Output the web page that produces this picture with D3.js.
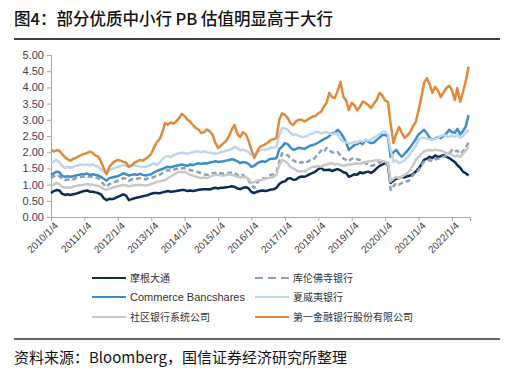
<!DOCTYPE html>
<html>
<head>
<meta charset="utf-8">
<script src="https://cdn.jsdelivr.net/npm/d3@7"></script>
<style>
  body { margin: 0; background: #fff; }
  svg { display: block; }
</style>
</head>
<body>
<div id="chart"></div>
<script>
// monthly PB readings, Jan 2010 - Jul 2022
const startMonth = new Date(2010, 0, 4)

const jpm = [
  0.74,0.80,0.83,0.82,0.72,0.68,0.70,0.68,0.70,0.72,0.75,0.78,
  0.80,0.82,0.78,0.78,0.76,0.74,0.70,0.58,0.52,0.56,0.55,0.58,
  0.62,0.66,0.70,0.66,0.52,0.55,0.58,0.60,0.62,0.64,0.66,0.68,
  0.72,0.74,0.74,0.73,0.76,0.78,0.80,0.78,0.79,0.80,0.82,0.83,
  0.83,0.80,0.82,0.80,0.82,0.84,0.85,0.86,0.86,0.85,0.88,0.90,
  0.88,0.90,0.90,0.92,0.93,0.95,0.93,0.88,0.86,0.90,0.92,0.88,
  0.77,0.74,0.78,0.80,0.82,0.80,0.82,0.85,0.86,0.90,1.02,1.08,
  1.10,1.18,1.20,1.15,1.16,1.22,1.25,1.24,1.28,1.32,1.36,1.40,
  1.48,1.51,1.45,1.45,1.46,1.42,1.45,1.48,1.44,1.38,1.36,1.24,
  1.28,1.32,1.30,1.38,1.35,1.38,1.40,1.36,1.42,1.50,1.58,1.62,
  1.66,1.60,1.05,1.12,1.18,1.20,1.24,1.22,1.26,1.28,1.32,1.40,
  1.50,1.62,1.76,1.80,1.86,1.82,1.90,1.85,1.88,1.91,1.86,1.82,
  1.76,1.70,1.60,1.52,1.40,1.35,1.28
]
const cfr = [
  1.20,1.26,1.30,1.26,1.18,1.14,1.16,1.14,1.16,1.20,1.22,1.24,
  1.24,1.26,1.24,1.25,1.22,1.20,1.12,1.00,0.93,1.02,1.05,1.08,
  1.12,1.15,1.20,1.18,1.12,1.16,1.18,1.18,1.20,1.18,1.16,1.20,
  1.20,1.24,1.28,1.30,1.35,1.40,1.45,1.42,1.46,1.48,1.51,1.50,
  1.51,1.48,1.45,1.43,1.40,1.38,1.35,1.32,1.30,1.32,1.35,1.36,
  1.32,1.35,1.34,1.36,1.35,1.38,1.35,1.30,1.25,1.30,1.20,1.14,
  0.98,0.90,1.05,1.14,1.20,1.18,1.25,1.30,1.32,1.40,1.70,1.97,
  1.95,1.90,1.82,1.75,1.70,1.66,1.70,1.65,1.70,1.75,1.76,1.85,
  1.95,2.05,2.00,2.13,2.05,2.00,1.97,2.00,1.90,1.80,1.76,1.72,
  1.80,1.82,1.78,1.76,1.70,1.66,1.62,1.58,1.60,1.65,1.70,1.68,
  1.66,1.60,0.83,0.95,1.05,1.00,1.05,1.10,1.10,1.15,1.30,1.35,
  1.45,1.60,1.71,1.75,1.76,1.72,1.78,1.80,1.82,1.86,1.90,1.95,
  2.07,2.02,2.05,1.95,2.02,2.15,2.30
]
const cbsh = [
  1.30,1.35,1.40,1.38,1.28,1.24,1.26,1.24,1.26,1.28,1.30,1.32,
  1.32,1.34,1.30,1.32,1.30,1.28,1.24,1.18,1.12,1.20,1.22,1.24,
  1.26,1.30,1.35,1.32,1.28,1.30,1.32,1.30,1.33,1.30,1.28,1.30,
  1.32,1.38,1.42,1.45,1.48,1.52,1.55,1.53,1.56,1.58,1.60,1.62,
  1.60,1.58,1.62,1.60,1.63,1.66,1.64,1.66,1.65,1.68,1.70,1.72,
  1.70,1.71,1.72,1.74,1.76,1.78,1.76,1.72,1.66,1.70,1.68,1.64,
  1.55,1.58,1.65,1.70,1.72,1.70,1.76,1.80,1.80,1.82,2.10,2.17,
  2.28,2.25,2.15,2.07,2.10,2.14,2.12,2.10,2.15,2.20,2.22,2.25,
  2.30,2.35,2.40,2.44,2.50,2.58,2.60,2.69,2.60,2.47,2.30,2.07,
  2.15,2.22,2.25,2.30,2.25,2.38,2.32,2.28,2.30,2.38,2.45,2.53,
  2.53,2.50,1.86,2.00,2.07,1.95,1.86,1.95,2.05,2.15,2.28,2.40,
  2.55,2.62,2.69,2.58,2.45,2.38,2.42,2.47,2.44,2.50,2.58,2.69,
  2.62,2.60,2.72,2.55,2.65,2.80,3.15
]
const boh = [
  1.66,1.72,1.76,1.70,1.58,1.51,1.55,1.52,1.55,1.58,1.60,1.62,
  1.60,1.62,1.60,1.62,1.58,1.55,1.48,1.40,1.35,1.45,1.48,1.51,
  1.55,1.58,1.60,1.58,1.55,1.58,1.60,1.58,1.56,1.55,1.55,1.58,
  1.62,1.66,1.60,1.68,1.78,1.86,1.88,1.85,1.90,1.94,1.97,1.98,
  1.97,1.95,1.98,2.00,2.02,2.02,2.00,2.03,2.00,1.98,1.97,1.96,
  1.97,2.00,2.02,2.05,2.07,2.10,2.17,2.12,2.05,2.08,2.05,2.00,
  1.91,1.93,2.00,2.05,2.08,2.07,2.10,2.15,2.14,2.17,2.55,2.74,
  2.74,2.69,2.60,2.53,2.55,2.50,2.48,2.47,2.50,2.55,2.58,2.62,
  2.63,2.58,2.60,2.62,2.59,2.55,2.58,2.55,2.40,2.33,2.30,2.28,
  2.28,2.32,2.30,2.35,2.33,2.38,2.35,2.40,2.45,2.50,2.55,2.63,
  2.63,2.55,2.07,1.71,1.75,1.66,1.70,1.75,1.85,1.95,2.07,2.20,
  2.38,2.45,2.44,2.42,2.40,2.38,2.40,2.45,2.50,2.53,2.50,2.47,
  2.52,2.47,2.55,2.45,2.50,2.60,2.69
]
const cbu = [
  0.93,1.00,1.05,1.02,0.94,0.90,0.92,0.90,0.94,0.96,0.98,0.99,
  1.00,1.02,0.99,1.00,0.98,0.96,0.92,0.86,0.83,0.88,0.90,0.93,
  0.95,0.97,0.99,0.98,0.94,0.96,0.98,0.99,0.99,0.98,0.97,0.99,
  1.02,1.05,1.08,1.10,1.12,1.14,1.20,1.25,1.30,1.35,1.40,1.38,
  1.40,1.35,1.30,1.28,1.25,1.22,1.20,1.22,1.20,1.24,1.28,1.30,
  1.30,1.28,1.27,1.30,1.32,1.30,1.28,1.24,1.22,1.24,1.22,1.18,
  1.05,1.08,1.12,1.14,1.15,1.18,1.20,1.22,1.24,1.30,1.60,1.76,
  1.72,1.65,1.55,1.50,1.45,1.40,1.42,1.40,1.45,1.50,1.55,1.55,
  1.58,1.55,1.60,1.62,1.65,1.66,1.62,1.64,1.60,1.58,1.60,1.62,
  1.62,1.65,1.66,1.64,1.68,1.70,1.71,1.72,1.74,1.76,1.75,1.73,
  1.71,1.68,1.10,1.18,1.24,1.20,1.24,1.30,1.35,1.45,1.60,1.76,
  1.85,1.95,2.02,2.05,2.07,2.05,2.08,2.06,2.05,2.02,1.98,1.95,
  1.92,1.86,1.90,1.85,1.95,2.05,2.17
]
const ffin = [
  2.08,2.02,2.06,2.05,1.95,1.85,1.78,1.74,1.80,1.82,1.88,1.92,
  1.95,1.98,2.02,1.98,1.90,1.86,1.72,1.50,1.32,1.55,1.65,1.72,
  1.76,1.74,1.70,1.68,1.55,1.60,1.68,1.72,1.76,1.74,1.80,1.86,
  1.95,2.15,2.30,2.40,2.60,2.90,2.85,2.92,2.88,2.95,3.05,3.18,
  3.12,3.00,2.95,2.84,2.75,2.70,2.59,2.62,2.70,2.65,2.55,2.30,
  2.13,2.20,2.28,2.35,2.50,2.70,2.84,2.55,2.47,2.62,2.55,2.35,
  2.07,1.82,2.00,2.16,2.20,2.25,2.30,2.38,2.40,2.45,3.00,3.20,
  3.15,3.05,2.90,2.84,2.95,3.00,3.00,2.95,3.00,3.05,3.10,3.12,
  3.20,3.25,3.40,3.52,3.83,3.70,3.67,3.90,4.17,3.71,3.60,3.30,
  3.52,3.45,3.30,3.40,3.56,3.52,3.45,3.36,3.50,3.61,3.83,3.75,
  3.60,3.55,2.90,2.28,2.55,2.78,2.60,2.44,2.52,2.62,2.80,2.93,
  3.30,3.70,4.13,4.29,4.10,3.83,4.02,3.90,3.70,3.85,3.98,4.05,
  3.92,3.61,3.98,3.56,3.85,4.20,4.64
]

const seriesNames = ["摩根大通", "库伦佛寺银行", "Commerce Bancshares", "夏威夷银行", "社区银行系统公司", "第一金融银行股份有限公司"]
const seriesData = [jpm, cfr, cbsh, boh, cbu, ffin]
const colors = ["#0b2c55", "#8d9fb3", "#3b8dcb", "#bcd6ee", "#c8c8c8", "#e0893a"]
const dashes = [null, "5,3", null, null, null, null]
const yTicks = [0, 0.5, 1, 1.5, 2, 2.5, 3, 3.5, 4, 4.5, 5]
const xTickYears = d3.range(2010, 2023)

const width = 511, height = 375
const svg = d3.select("#chart").append("svg")
    .attr("width", width)
    .attr("height", height)

// title + rules
svg.append("text")
    .attr("x", 14).attr("y", 25)
    .attr("font-family", "Noto Sans CJK SC")
    .attr("font-size", 16.5)
    .attr("font-weight", 500)
    .attr("fill", "#111")
    .text("图4：部分优质中小行 PB 估值明显高于大行")
svg.append("line")
    .attr("x1", 14).attr("x2", 500).attr("y1", 39).attr("y2", 39)
    .attr("stroke", "#000").attr("stroke-width", 1.3)
svg.append("line")
    .attr("x1", 14).attr("x2", 500).attr("y1", 339).attr("y2", 339)
    .attr("stroke", "#333").attr("stroke-width", 1.3)
svg.append("text")
    .attr("x", 14).attr("y", 363)
    .attr("font-family", "Noto Sans CJK SC")
    .attr("font-size", 15)
    .attr("fill", "#111")
    .text("资料来源：Bloomberg，国信证券经济研究所整理")

// scales
const dates = jpm.map((d, i) => d3.timeMonth.offset(startMonth, i))
const xScale = d3.scaleTime()
    .domain([startMonth, new Date(2022, 6, 20)])
    .range([51, 470])
const yScale = d3.scaleLinear()
    .domain([0, 5])
    .range([217, 55])

//yAxis
const yAxis = svg.append("g")
    .attr("transform", "translate(51,0)")
    .call(d3.axisLeft(yScale).tickValues(yTicks).tickFormat(d3.format(".2f")).tickSize(4).tickPadding(3))
yAxis.selectAll("text")
    .attr("font-family", "Liberation Sans, Arial")
    .attr("font-size", 11)
    .attr("fill", "#404040")

//xAxis
const xAxis = svg.append("g")
    .attr("transform", "translate(0,217)")
    .call(d3.axisBottom(xScale)
        .tickValues(xTickYears.map(y => new Date(y, 0, 4)))
        .tickFormat(d3.timeFormat("%Y/%-m/%-d"))
        .tickSize(4))
xAxis.selectAll("text")
    .attr("font-family", "Liberation Sans, Arial")
    .attr("font-size", 10)
    .attr("fill", "#404040")
    .attr("text-anchor", "end")
    .attr("transform", "translate(2,4) rotate(-45)")
    .attr("dy", "0.35em")
    .attr("y", 4)
    .attr("x", 0);
[yAxis, xAxis].forEach(a => {
    a.select(".domain").attr("stroke", "#a6a6a6")
    a.selectAll(".tick line").attr("stroke", "#a6a6a6")
})

// lines
const line = d3.line()
    .x((d, i) => xScale(dates[i]))
    .y(d => yScale(d))

seriesData.forEach((s, k) => {
    svg.append("path")
        .datum(s)
        .attr("fill", "none")
        .attr("stroke", colors[k])
        .attr("stroke-width", 2.5)
        .attr("stroke-linejoin", "round")
        .attr("stroke-dasharray", dashes[k])
        .attr("d", line)
})

// legend
const legCols = [92, 255], legRows = [278, 297, 317]
seriesNames.forEach((name, k) => {
    const lx = legCols[k % 2], ly = legRows[Math.floor(k / 2)]
    svg.append("line")
        .attr("x1", lx).attr("x2", lx + 34).attr("y1", ly).attr("y2", ly)
        .attr("stroke", colors[k]).attr("stroke-width", 2.2)
        .attr("stroke-dasharray", dashes[k] ? "8,5" : null)
    svg.append("text")
        .attr("x", lx + 38).attr("y", ly + 4)
        .attr("font-family", /[A-Za-z]/.test(name) ? "Liberation Sans, Arial" : "Noto Sans CJK SC")
        .attr("font-size", /[A-Za-z]/.test(name) ? 11 : 10)
        .attr("fill", "#333")
        .text(name)
})
</script>
</body>
</html>
